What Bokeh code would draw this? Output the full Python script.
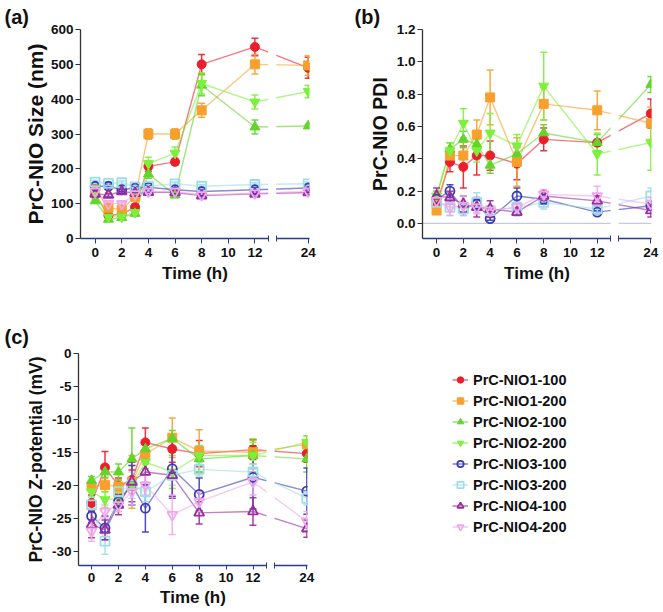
from bokeh.plotting import figure
from bokeh.models import (Range1d, FixedTicker, Title, Span, Legend, LegendItem,
                          NumeralTickFormatter, PrintfTickFormatter)
from bokeh.layouts import column, row
from bokeh.embed import file_html
from bokeh.resources import INLINE

# ---------------- data ----------------
TIME = [0, 1, 2, 3, 4, 6, 8, 12, 24]
X_TICKS = [0, 2, 4, 6, 8, 10, 12, 24]

SERIES = ["PrC-NIO1-100", "PrC-NIO1-200", "PrC-NIO2-100", "PrC-NIO2-200",
          "PrC-NIO3-100", "PrC-NIO3-200", "PrC-NIO4-100", "PrC-NIO4-200"]
COLORS = ["#EE1D2B", "#F7A02E", "#62D52A", "#7CF03A",
          "#3A3AB8", "#9FDDE6", "#9A2CA0", "#F2A6EC"]
MARKERS = ["circle", "square", "triangle", "inverted_triangle",
           "circle", "square", "triangle", "inverted_triangle"]
FILLED = [True, True, True, True, False, False, False, False]

SIZE_MEAN = {
    "PrC-NIO1-100": [128, 66, 70, 90, 207, 220, 500, 550, 490],
    "PrC-NIO1-200": [140, 88, 83, 120, 300, 300, 368, 500, 497],
    "PrC-NIO2-100": [108, 55, 60, 72, 185, 125, 440, 320, 323],
    "PrC-NIO2-200": [130, 62, 62, 75, 215, 245, 445, 392, 422],
    "PrC-NIO3-100": [150, 150, 140, 145, 147, 140, 135, 140, 145],
    "PrC-NIO3-200": [162, 158, 160, 148, 150, 157, 150, 155, 157],
    "PrC-NIO4-100": [128, 125, 135, 130, 133, 132, 123, 128, 132],
    "PrC-NIO4-200": [135, 100, 100, 128, 135, 135, 125, 130, 135],
}
SIZE_ERR = {
    "PrC-NIO1-100": [8, 6, 8, 10, 15, 10, 28, 25, 30],
    "PrC-NIO1-200": [8, 6, 6, 8, 15, 15, 20, 28, 28],
    "PrC-NIO2-100": [6, 5, 5, 6, 12, 8, 30, 20, 5],
    "PrC-NIO2-200": [6, 5, 5, 6, 18, 18, 30, 20, 18],
    "PrC-NIO3-100": [6, 6, 6, 6, 6, 6, 6, 6, 6],
    "PrC-NIO3-200": [5, 5, 5, 5, 5, 5, 5, 5, 5],
    "PrC-NIO4-100": [5, 5, 5, 5, 5, 5, 5, 5, 5],
    "PrC-NIO4-200": [5, 5, 5, 5, 5, 5, 5, 5, 5],
}

PDI_MEAN = {
    "PrC-NIO1-100": [0.12, 0.38, 0.35, 0.42, 0.42, 0.37, 0.52, 0.50, 0.68],
    "PrC-NIO1-200": [0.08, 0.42, 0.42, 0.55, 0.78, 0.38, 0.74, 0.70, 0.62],
    "PrC-NIO2-100": [0.17, 0.46, 0.52, 0.49, 0.36, 0.43, 0.56, 0.50, 0.86],
    "PrC-NIO2-200": [0.17, 0.45, 0.62, 0.45, 0.56, 0.48, 0.85, 0.43, 0.50],
    "PrC-NIO3-100": [0.15, 0.20, 0.09, 0.12, 0.03, 0.17, 0.15, 0.07, 0.11],
    "PrC-NIO3-200": [0.13, 0.10, 0.09, 0.13, 0.08, 0.10, 0.13, 0.09, 0.17],
    "PrC-NIO4-100": [0.17, 0.16, 0.12, 0.10, 0.09, 0.07, 0.17, 0.14, 0.08],
    "PrC-NIO4-200": [0.14, 0.10, 0.11, 0.10, 0.08, 0.10, 0.18, 0.17, 0.12],
}
PDI_ERR = {
    "PrC-NIO1-100": [0.03, 0.06, 0.13, 0.12, 0.09, 0.10, 0.07, 0.02, 0.09],
    "PrC-NIO1-200": [0.02, 0.05, 0.05, 0.09, 0.17, 0.15, 0.10, 0.12, 0.10],
    "PrC-NIO2-100": [0.03, 0.04, 0.05, 0.06, 0.05, 0.05, 0.05, 0.05, 0.05],
    "PrC-NIO2-200": [0.03, 0.05, 0.09, 0.07, 0.12, 0.07, 0.21, 0.13, 0.17],
    "PrC-NIO3-100": [0.03, 0.04, 0.02, 0.03, 0.01, 0.05, 0.03, 0.01, 0.03],
    "PrC-NIO3-200": [0.04, 0.05, 0.04, 0.06, 0.03, 0.04, 0.04, 0.03, 0.05],
    "PrC-NIO4-100": [0.05, 0.04, 0.05, 0.06, 0.05, 0.02, 0.03, 0.03, 0.04],
    "PrC-NIO4-200": [0.04, 0.05, 0.06, 0.04, 0.03, 0.03, 0.03, 0.06, 0.04],
}

ZETA_MEAN = {
    "PrC-NIO1-100": [-22.7, -17.3, -20.1, -19.2, -13.5, -14.5, -15.2, -14.6, -15.2],
    "PrC-NIO1-200": [-20.2, -20.0, -20.2, -19.5, -15.3, -12.8, -14.8, -15.0, -13.8],
    "PrC-NIO2-100": [-19.3, -18.0, -18.0, -16.0, -14.5, -12.9, -16.0, -15.5, -16.0],
    "PrC-NIO2-200": [-21.0, -22.2, -22.0, -20.0, -16.5, -18.0, -15.5, -15.5, -13.5],
    "PrC-NIO3-100": [-24.7, -26.5, -22.5, -20.0, -23.5, -17.5, -21.4, -18.8, -20.9],
    "PrC-NIO3-200": [-23.0, -28.5, -21.0, -20.0, -21.0, -18.5, -17.6, -18.0, -22.0],
    "PrC-NIO4-100": [-26.0, -26.8, -23.0, -19.5, -18.0, -18.5, -24.2, -24.0, -26.6],
    "PrC-NIO4-200": [-27.0, -24.0, -23.0, -21.0, -20.0, -24.5, -22.5, -19.5, -25.5],
}
ZETA_ERR = {
    "PrC-NIO1-100": [1.2, 2.4, 1.2, 1.5, 2.2, 2.0, 2.0, 1.5, 1.3],
    "PrC-NIO1-200": [0.8, 1.0, 1.0, 4.0, 1.5, 3.0, 3.2, 1.8, 1.3],
    "PrC-NIO2-100": [0.6, 0.8, 1.2, 4.7, 1.3, 1.2, 2.0, 2.5, 2.0],
    "PrC-NIO2-200": [0.8, 1.2, 1.0, 3.0, 1.0, 2.5, 1.5, 2.0, 1.0],
    "PrC-NIO3-100": [1.0, 1.8, 1.0, 3.0, 3.6, 4.2, 2.5, 4.8, 3.5],
    "PrC-NIO3-200": [1.2, 2.0, 1.0, 2.0, 1.5, 1.5, 1.0, 1.2, 1.0],
    "PrC-NIO4-100": [2.0, 1.5, 1.5, 3.0, 2.0, 3.5, 1.7, 2.1, 1.3],
    "PrC-NIO4-200": [1.5, 1.0, 1.0, 2.0, 1.5, 3.0, 1.5, 2.0, 1.5],
}

SIZE_TICKS = [0, 100, 200, 300, 400, 500, 600]
PDI_TICKS = [0.0, 0.2, 0.4, 0.6, 0.8, 1.0, 1.2]
ZETA_TICKS = [0, -5, -10, -15, -20, -25, -30]

# ---------------- broken time axis ----------------
X24 = 16            # plotting position of the 24 h point
BREAK_LO = 13.0
BREAK_HI = 13.6


def xpos(t):
    return t if t <= 12 else X24


FONT = "Liberation Sans"
XAXIS_COLOR = "#2a3a8c"
YAXIS_COLOR = "#333333"


def make_panel(mean, err, x_start, x_end, y_start, y_end, y_ticks, frame_w, frame_h,
               borders, ylabel, ylabel_size, letter, letter_offset, letter_standoff,
               tick_out_x, label_standoff_x, axis_label_standoff_x, y_fmt=None,
               zero_line=False, ylabel_standoff=3):
    left, right, top, bottom = borders
    p = figure(frame_width=frame_w, frame_height=frame_h,
               min_border_left=left, min_border_right=right,
               min_border_top=top, min_border_bottom=bottom,
               x_range=Range1d(x_start, x_end), y_range=Range1d(y_start, y_end),
               output_backend="svg", toolbar_location=None,
               background_fill_color="white", border_fill_color="white")
    p.outline_line_color = None
    p.grid.visible = False

    if zero_line:
        p.add_layout(Span(location=0, dimension="width", line_color="#c5cbe0",
                          line_width=1.2, level="underlay"))

    xs = [xpos(t) for t in TIME]
    for name, col in zip(SERIES, COLORS):
        p.line(xs, mean[name], line_color=col, line_alpha=0.6, line_width=1.4)
    # mask the axis break
    p.quad(left=[BREAK_LO], right=[BREAK_HI], bottom=[y_start], top=[y_end],
           fill_color="white", line_color=None)
    for name, col in zip(SERIES, COLORS):
        lo = [m - e for m, e in zip(mean[name], err[name])]
        hi = [m + e for m, e in zip(mean[name], err[name])]
        p.segment(x0=xs, y0=lo, x1=xs, y1=hi, line_color=col, line_width=1.5, line_alpha=0.9)
        p.scatter(xs + xs, lo + hi, marker="dash", size=7, line_color=col,
                  line_width=1.5, line_alpha=0.9)
    for name, col, mk, filled in zip(SERIES, COLORS, MARKERS, FILLED):
        sz = 9 if mk in ("circle", "square") else 10
        if filled:
            p.scatter(xs, mean[name], marker=mk, size=sz, fill_color=col, line_color=col)
        else:
            p.scatter(xs, mean[name], marker=mk, size=sz, fill_color=None,
                      line_color=col, line_width=1.8)

    xa = p.xaxis[0]
    xa.ticker = FixedTicker(ticks=[xpos(t) for t in X_TICKS], minor_ticks=[BREAK_LO, BREAK_HI])
    xa.major_label_overrides = {X24: "24"}
    px = frame_w / (x_end - x_start)
    seg1 = int(round((BREAK_LO - x_start) * px))
    gap = int(round((BREAK_HI - BREAK_LO) * px))
    xa.axis_line_dash = f"{seg1} {gap} 400"
    xa.axis_line_color = XAXIS_COLOR
    xa.axis_line_width = 1.3
    xa.major_tick_line_color = XAXIS_COLOR
    xa.minor_tick_line_color = XAXIS_COLOR
    xa.major_tick_in = 0
    xa.major_tick_out = tick_out_x
    xa.minor_tick_in = 3
    xa.minor_tick_out = 3
    xa.major_label_standoff = label_standoff_x
    xa.axis_label = "Time (h)"
    xa.axis_label_standoff = axis_label_standoff_x
    xa.axis_label_text_font = FONT
    xa.axis_label_text_font_style = "bold"
    xa.axis_label_text_font_size = "17px"
    xa.axis_label_text_color = "#111111"
    xa.major_label_text_font = FONT
    xa.major_label_text_font_style = "bold"
    xa.major_label_text_font_size = "13.5px"
    xa.major_label_text_color = "#111111"

    ya = p.yaxis[0]
    ya.ticker = FixedTicker(ticks=y_ticks, minor_ticks=[])
    if y_fmt is not None:
        ya.formatter = y_fmt
    ya.axis_line_color = YAXIS_COLOR
    ya.axis_line_width = 1.3
    ya.major_tick_line_color = YAXIS_COLOR
    ya.major_tick_in = 0
    ya.major_tick_out = 5
    ya.major_label_standoff = 2
    ya.axis_label = ylabel
    ya.axis_label_standoff = ylabel_standoff
    ya.axis_label_text_font = FONT
    ya.axis_label_text_font_style = "bold"
    ya.axis_label_text_font_size = ylabel_size
    ya.axis_label_text_color = "#111111"
    ya.major_label_text_font = FONT
    ya.major_label_text_font_style = "bold"
    ya.major_label_text_font_size = "13.5px"
    ya.major_label_text_color = "#111111"

    p.add_layout(Title(text=letter, align="left", offset=letter_offset,
                       standoff=letter_standoff, text_font=FONT, text_font_style="bold",
                       text_font_size="20px", text_color="#111111"), "above")
    return p


pa = make_panel(SIZE_MEAN, SIZE_ERR, -1.1, 16.1, 0, 600, SIZE_TICKS, 229, 209,
                (80, 21, 29, 62), "PrC-NIO Size (nm)", "21px", "(a)", -76, 4,
                5, 4, 4, ylabel_standoff=1)
pb = make_panel(PDI_MEAN, PDI_ERR, -1.05, 16.05, -0.093, 1.2, PDI_TICKS, 229, 209,
                (92, 12, 29, 62), "PrC-NIO PDI", "19.5px", "(b)", -68, 4,
                5, 4, 4, y_fmt=NumeralTickFormatter(format="0.0"), zero_line=True)
pc = make_panel(ZETA_MEAN, ZETA_ERR, -0.97, 16.05, -32.2, 0, ZETA_TICKS, 229, 212,
                (78, 23, 53, 47), "PrC-NIO Z-potential (mV)", "17.5px", "(c)", -74, 12,
                4, 3, 3, y_fmt=PrintfTickFormatter(format="%d"))

# ---------------- legend panel ----------------
# invisible frame, vertically matching panel (c); the legend is placed inside it
pl = figure(frame_width=200, frame_height=212, x_range=Range1d(0, 1), y_range=Range1d(0, 1),
            x_axis_location=None, y_axis_location=None,
            output_backend="svg", toolbar_location=None,
            min_border_left=122, min_border_right=11, min_border_top=53, min_border_bottom=47)
pl.grid.visible = False
pl.outline_line_color = None
items = []
for name, col, mk, filled in zip(SERIES, COLORS, MARKERS, FILLED):
    # off-range placeholder point, only used to build the legend swatch
    rl = pl.line(x=[-5, -4], y=[-5, -4], line_color=col, line_width=1.4, line_alpha=0.7)
    if filled:
        rs = pl.scatter(x=[-5], y=[-5], marker=mk, size=8, fill_color=col, line_color=col)
    else:
        rs = pl.scatter(x=[-5], y=[-5], marker=mk, size=8, fill_color=None, line_color=col,
                        line_width=1.7)
    items.append(LegendItem(label=name, renderers=[rl, rs]))
legend = Legend(items=items, location=(0, 28), glyph_width=16, glyph_height=21,
                label_height=21, spacing=0, padding=0, margin=0, label_standoff=5,
                border_line_color=None, background_fill_alpha=0,
                label_text_font=FONT, label_text_font_style="bold",
                label_text_font_size="14.5px", label_text_color="#111111")
pl.add_layout(legend)

layout = column(row(pa, pb), row(pc, pl))
open("out.html", "w").write(file_html(layout, INLINE))
